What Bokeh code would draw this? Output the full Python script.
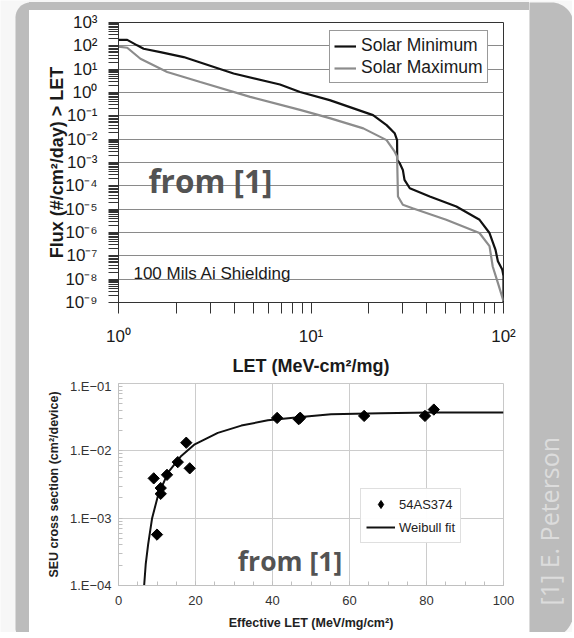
import numpy as np
from bokeh.plotting import figure
from bokeh.layouts import row, column
from bokeh.models import Range1d, FixedTicker, Legend, LegendItem, Label, Div
from bokeh.core.properties import value
from bokeh.embed import file_html
from bokeh.resources import INLINE

# ---------------- data: top chart (flux vs LET) ----------------
let_solar_min = [1.0, 1.11, 1.25, 1.35, 1.65, 2.18, 3.96, 6.9, 8.77, 12.5, 21.0, 24.7,
                 27.2, 28.0, 28.05, 28.9, 30.0, 30.6, 32.6, 41.4, 56.9, 75.1, 84.6,
                 90.9, 93.5, 98.5, 100.0, 100.0]
flux_solar_min = [180, 180, 105, 75, 54, 33, 6.5, 2.2, 1.05, 0.47, 0.107, 0.040,
                  0.018, 9.1e-3, 1.3e-3, 9.3e-4, 4.8e-4, 1.8e-4, 7.9e-5, 3.5e-5, 1.3e-5,
                  3.5e-6, 9.5e-7, 1.8e-7, 5.9e-8, 2.6e-8, 1.35e-8, 1e-9]
let_solar_max = [1.0, 1.11, 1.30, 1.79, 2.66, 4.83, 8.77, 12.5, 18.7, 24.7, 27.2, 28.0,
                 28.3, 30.0, 33.7, 50.4, 75.0, 84.6, 87.9, 93.5, 100.0]
flux_solar_max = [93, 83, 28, 7.6, 2.8, 0.65, 0.18, 0.08, 0.029, 9.1e-3, 2.9e-3, 1.8e-3,
                  3.5e-5, 1.55e-5, 1.1e-5, 3.5e-6, 9.5e-7, 2.6e-7, 3.5e-8, 6.9e-9, 1.15e-9]
series_names = ["Solar Minimum", "Solar Maximum"]

top_y_ticks = [10.0 ** k for k in range(-9, 4)]
top_y_labels = ["10\u207b\u2079", "10\u207b\u2078", "10\u207b\u2077", "10\u207b\u2076",
                "10\u207b\u2075", "10\u207b\u2074", "10\u207b\u00b3", "10\u207b\u00b2",
                "10\u207b\u00b9", "10\u2070", "10\u00b9", "10\u00b2", "10\u00b3"]
top_y_minor = [m * 10.0 ** k for k in range(-9, 3) for m in range(2, 10)]
top_x_ticks = [1, 10, 100]
top_x_labels = ["10\u2070", "10\u00b9", "10\u00b2"]
top_x_minor = [m * 10.0 ** k for k in range(0, 2) for m in range(2, 10)]

# ---------------- data: bottom chart (SEU cross section) ----------------
device_let = [9.15, 10.0, 10.97, 10.97, 12.6, 15.4, 17.6, 18.5, 41.2, 46.8, 47.2, 63.8, 79.6, 81.9]
device_sigma = [3.9e-3, 5.7e-4, 2.8e-3, 2.3e-3, 4.4e-3, 6.8e-3, 1.32e-2, 5.5e-3, 3.08e-2,
                2.95e-2, 3.1e-2, 3.3e-2, 3.3e-2, 4.1e-2]
fit_let = [6.66, 7.07, 7.69, 8.73, 10.28, 12.9, 16.3, 19.8, 25.8, 31.9, 38.8, 47.4, 55.2,
           68.1, 81.1, 100.0]
fit_sigma = [1.0e-4, 2.07e-4, 4.05e-4, 1.0e-3, 2.19e-3, 4.8e-3, 8.4e-3, 1.25e-2, 1.85e-2,
             2.37e-2, 2.84e-2, 3.18e-2, 3.5e-2, 3.63e-2, 3.71e-2, 3.71e-2]
bottom_names = ["54AS374", "Weibull fit"]
bot_y_ticks = [1e-4, 1e-3, 1e-2, 1e-1]
bot_y_labels = ["1.E\u221204", "1.E\u221203", "1.E\u221202", "1.E\u221201"]
bot_y_minor = [m * 10.0 ** k for k in range(-4, -1) for m in range(2, 10)]
bot_x_ticks = [0, 20, 40, 60, 80, 100]
bot_x_minor = list(range(0, 101, 5))

FONT = "Liberation Sans"
OUTER = "#f7f7f7"
FRAME_GREY = "#bcbcbc"

# ---------------- top figure ----------------
p1 = figure(x_axis_type="log", y_axis_type="log",
            x_range=Range1d(1, 100), y_range=Range1d(1e-9, 1e3),
            width=500, height=368, output_backend="svg", toolbar_location=None,
            min_border_left=89, min_border_right=25, min_border_top=12, min_border_bottom=75)
p1.outline_line_color = "#333333"
p1.xgrid.visible = False
p1.ygrid.grid_line_color = "#8a8a8a"
p1.ygrid.grid_line_width = 1

r_min = p1.line(let_solar_min, flux_solar_min, line_color="#111111", line_width=2.2)
r_max = p1.line(let_solar_max, flux_solar_max, line_color="#8c8c8c", line_width=2.2)

p1.yaxis.ticker = FixedTicker(ticks=top_y_ticks, minor_ticks=top_y_minor)
p1.xaxis.ticker = FixedTicker(ticks=top_x_ticks, minor_ticks=top_x_minor)
p1.yaxis.major_label_overrides = {t: s for t, s in zip(top_y_ticks, top_y_labels)}
p1.xaxis.major_label_overrides = {t: s for t, s in zip(top_x_ticks, top_x_labels)}
for ax in (p1.xaxis[0], p1.yaxis[0]):
    ax.axis_line_color = "#333333"
    ax.major_tick_line_color = "#333333"
    ax.minor_tick_line_color = "#333333"
    ax.major_tick_in = 0
    ax.minor_tick_in = 0
    ax.major_tick_out = 10
    ax.minor_tick_out = 10
    ax.major_label_text_font = FONT
    ax.major_label_text_font_size = "17px"
    ax.major_label_text_color = "#1a1a1a"
    ax.axis_label_text_font = FONT
    ax.axis_label_text_font_size = "18px"
    ax.axis_label_text_font_style = "bold"
    ax.axis_label_text_color = "#1a1a1a"
p1.xaxis.major_tick_out = 11
p1.xaxis.minor_tick_out = 11
p1.xaxis.major_label_standoff = 13
p1.yaxis.major_label_standoff = 11
p1.xaxis.axis_label = "LET (MeV-cm\u00b2/mg)"
p1.yaxis.axis_label = "Flux (#/cm\u00b2/day) > LET"
p1.xaxis.axis_label_standoff = 7
p1.yaxis.axis_label_standoff = -5

leg1 = Legend(items=[LegendItem(label=series_names[0], renderers=[r_min]),
                     LegendItem(label=series_names[1], renderers=[r_max])],
              location=(211, 219))
leg1.border_line_color = "#333333"
leg1.background_fill_color = "white"
leg1.background_fill_alpha = 1
leg1.label_text_font = FONT
leg1.label_text_font_size = "17.5px"
leg1.label_text_line_height = 1.0
leg1.label_text_color = "#1a1a1a"
leg1.glyph_width = 22
leg1.glyph_height = 18
leg1.label_height = 18
leg1.spacing = 1
leg1.padding = 4
leg1.margin = 0
leg1.label_standoff = 5
p1.add_layout(leg1, "center")

p1.add_layout(Label(x=1.196, y=10 ** -7.76, text="100 Mils Ai Shielding",
                    text_font=FONT, text_font_size="17px", text_color="#1a1a1a",
                    text_baseline="alphabetic"))
p1.add_layout(Label(x=1.43, y=10 ** -3.75, text="from [1]",
                    text_font="Open Sans", text_font_size="31.5px", text_font_style="bold",
                    text_color="#535353", text_baseline="middle"))

# ---------------- bottom figure ----------------
p2 = figure(y_axis_type="log", x_range=Range1d(0, 100), y_range=Range1d(1e-4, 1e-1),
            width=500, height=254, output_backend="svg", toolbar_location=None,
            min_border_left=88, min_border_right=26, min_border_top=5, min_border_bottom=44)
p2.outline_line_color = "#c8c8c8"
p2.xaxis.ticker = FixedTicker(ticks=bot_x_ticks, minor_ticks=bot_x_minor)
p2.yaxis.ticker = FixedTicker(ticks=bot_y_ticks, minor_ticks=bot_y_minor)
p2.yaxis.major_label_overrides = {t: s for t, s in zip(bot_y_ticks, bot_y_labels)}
p2.xgrid.grid_line_color = "#cccccc"
p2.ygrid.grid_line_color = "#cccccc"
for ax in (p2.xaxis[0], p2.yaxis[0]):
    ax.axis_line_color = "#c0c0c0"
    ax.major_tick_line_color = "#c0c0c0"
    ax.minor_tick_line_color = "#c0c0c0"
    ax.major_tick_in = 4
    ax.major_tick_out = 0
    ax.minor_tick_in = 4
    ax.minor_tick_out = 0
    ax.major_label_text_font = FONT
    ax.major_label_text_font_size = "13px"
    ax.major_label_text_color = "#333333"
    ax.axis_label_text_font = FONT
    ax.axis_label_text_font_size = "12.5px"
    ax.axis_label_text_font_style = "bold"
    ax.axis_label_text_color = "#222222"
p2.xaxis.major_label_standoff = 10
p2.yaxis.major_label_standoff = 7
p2.xaxis.axis_label = "Effective LET (MeV/mg/cm\u00b2)"
p2.yaxis.axis_label = "SEU cross section (cm\u00b2/device)"
p2.xaxis.axis_label_standoff = 8
p2.yaxis.axis_label_standoff = 6

r_fit = p2.line(fit_let, fit_sigma, line_color="#111111", line_width=2)
r_pts = p2.scatter(device_let, device_sigma, marker="square", angle=np.pi / 4, size=8,
                   fill_color="black", line_color="black")
# hidden diamond view of the same points, used only as the legend swatch
r_swatch = p2.scatter(device_let, device_sigma, marker="diamond", size=12,
                      fill_color="black", line_color="black", visible=False)

leg2 = Legend(items=[LegendItem(label=bottom_names[0], renderers=[r_swatch]),
                     LegendItem(label=bottom_names[1], renderers=[r_fit])],
              location=(242, 42))
leg2.border_line_color = "#c0c0c0"
leg2.background_fill_color = "white"
leg2.label_text_font = FONT
leg2.label_text_font_size = "13px"
leg2.label_text_color = "#222222"
leg2.glyph_width = 29
leg2.glyph_height = 20
leg2.label_height = 20
leg2.spacing = 3
leg2.padding = 5
leg2.margin = 0
leg2.label_standoff = 4
p2.add_layout(leg2, "center")

p2.add_layout(Label(x=31.0, y=2.34e-4, text="from [1]",
                    text_font="Open Sans", text_font_size="26.5px", text_font_style="bold",
                    text_color="#535353", text_baseline="middle"))

# ---------------- frame decorations (coordinates are page pixels) ----------------
def deco(x0, x1, y0, y1, bg):
    f = figure(x_range=Range1d(x0, x1), y_range=Range1d(-y1, -y0),
               width=x1 - x0, height=y1 - y0, output_backend="svg", toolbar_location=None,
               x_axis_location=None, y_axis_location=None, min_border=0)
    f.outline_line_color = None
    f.grid.visible = False
    f.background_fill_color = bg
    f.border_fill_color = bg
    return f

def rounded_rect(x0, x1, y0, y1, r_tl, r_tr, r_br, r_bl, n=16):
    xs, ys = [], []
    def arc(cx, cy, r, a0, a1):
        for t in np.linspace(a0, a1, n):
            xs.append(cx + r * np.cos(t))
            ys.append(-(cy - r * np.sin(t)))
    arc(x0 + r_tl, y0 + r_tl, r_tl, np.pi, np.pi / 2)
    arc(x1 - r_tr, y0 + r_tr, r_tr, np.pi / 2, 0)
    arc(x1 - r_br, y1 - r_br, r_br, 0, -np.pi / 2)
    arc(x0 + r_bl, y1 - r_bl, r_bl, -np.pi / 2, -np.pi)
    return xs, ys

gx, gy = rounded_rect(15, 573, 2, 638, 15, 22, 26, 10)

left = deco(0, 29, 0, 632, OUTER)
left.patch(gx, gy, fill_color=FRAME_GREY, line_color=None)

top_strip = Div(text="", width=500, height=10, margin=0,
                styles={"background": "linear-gradient(%s 0px, %s 2px, %s 2px)" % (OUTER, OUTER, FRAME_GREY)})

right = deco(529, 572, 0, 632, OUTER)
right.patch(gx, gy, fill_color=FRAME_GREY, line_color=None)
right.text(x=[548], y=[-605], text=["[1] E. Peterson"], angle=np.pi / 2,
           text_font=value("Open Sans"), text_font_size="25px", text_color="#dcdcdc",
           text_align="left", text_baseline="middle")

layout = row(left, column(top_strip, p1, p2, spacing=0), right, spacing=0)

open("out.html", "w").write(file_html(layout, INLINE))
